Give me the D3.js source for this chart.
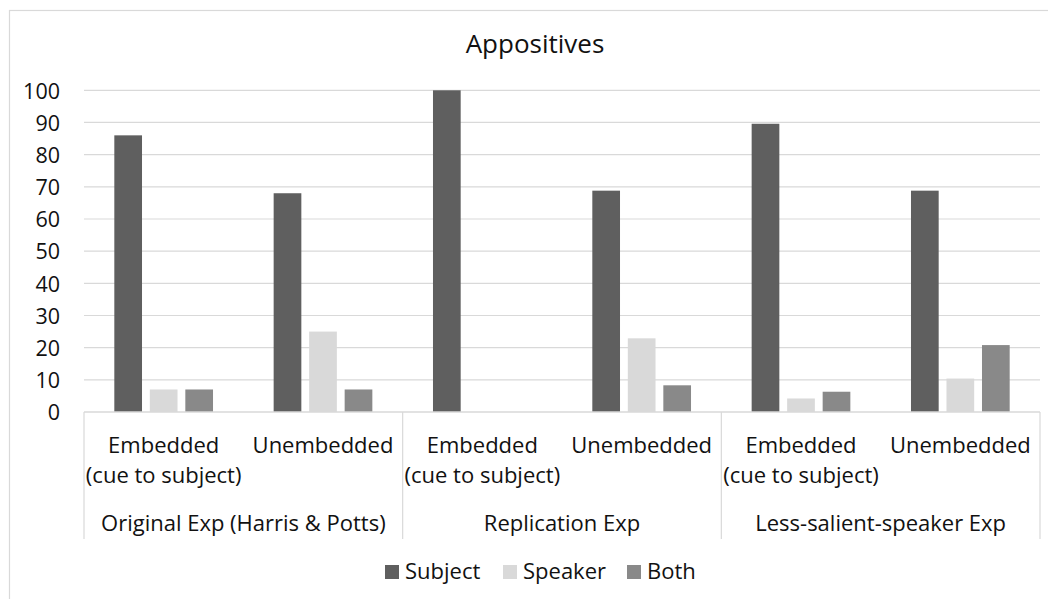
<!DOCTYPE html>
<html>
<head>
<meta charset="utf-8">
<script src="https://cdn.jsdelivr.net/npm/d3@7"></script>
<style>
  html, body { margin: 0; padding: 0; background: #fff; }
  svg { display: block; font-family: "Open Sans", sans-serif; }
</style>
</head>
<body>
<svg id="chart" width="1048" height="599"></svg>
<script>
// Appositives: share of interpretations (%) per condition and experiment
const title = "Appositives";
const experiments = ["Original Exp (Harris & Potts)", "Replication Exp", "Less-salient-speaker Exp"];
const conditions = ["Embedded\n(cue to subject)", "Unembedded"];
const seriesNames = ["Subject", "Speaker", "Both"];
const seriesColors = ["#5f5f5f", "#d9d9d9", "#898989"];
const subjectValues = [86, 68, 100, 68.8, 89.6, 68.8];
const speakerValues = [7, 25, 0, 22.9, 4.2, 10.4];
const bothValues = [7, 7, 0, 8.3, 6.3, 20.8];
const yTicks = [0, 10, 20, 30, 40, 50, 60, 70, 80, 90, 100];

const svg = d3.select("#chart");
const plot = { left: 84, right: 1040, top: 90.3, bottom: 412 };
const textColor = "#111";
const lineColor = "#d9d9d9";
const labelSize = 22;

// chart frame
svg.append("rect")
  .attr("x", 9.5).attr("y", 10.5)
  .attr("width", 1080).attr("height", 620)
  .attr("fill", "none").attr("stroke", lineColor).attr("stroke-width", 1.2);

// one entry per bottom-level category
const cats = [];
experiments.forEach((e, i) => conditions.forEach((c, j) => cats.push({ exp: e, cond: c, key: i + "-" + j })));
const valueRows = [subjectValues, speakerValues, bothValues];

const x0 = d3.scaleBand().domain(cats.map(d => d.key)).range([plot.left, plot.right]);
const x1 = d3.scaleBand().domain(seriesNames).range([0, x0.bandwidth()]).paddingInner(0.22).paddingOuter(0.854);
const y = d3.scaleLinear().domain([0, 100]).range([plot.bottom, plot.top]);

// gridlines
svg.append("g")
  .selectAll("line").data(yTicks.filter(t => t > 0)).join("line")
  .attr("x1", plot.left).attr("x2", plot.right)
  .attr("y1", d => y(d)).attr("y2", d => y(d))
  .attr("stroke", lineColor).attr("stroke-width", 1.2);

// y axis labels
const yAxis = d3.axisLeft(y).tickValues(yTicks).tickSize(0).tickPadding(0);
const gy = svg.append("g").attr("transform", `translate(${plot.left - 24},0)`).call(yAxis);
gy.select(".domain").remove();
gy.selectAll("text")
  .attr("font-family", "Open Sans, sans-serif")
  .attr("font-size", 21.5).attr("fill", textColor).attr("dy", "0.36em");

// bars
const barG = svg.append("g");
cats.forEach((c, ci) => {
  seriesNames.forEach((s, si) => {
    const v = valueRows[si][ci];
    if (v <= 0) return;
    barG.append("rect")
      .attr("x", x0(c.key) + x1(s))
      .attr("y", y(v))
      .attr("width", x1.bandwidth())
      .attr("height", y(0) - y(v))
      .attr("fill", seriesColors[si]);
  });
});

// category axis line
svg.append("line")
  .attr("x1", plot.left).attr("x2", plot.right)
  .attr("y1", plot.bottom).attr("y2", plot.bottom)
  .attr("stroke", lineColor).attr("stroke-width", 1.4);

// separators between experiments
const groupWidth = x0.bandwidth() * conditions.length;
const sepX = d3.range(experiments.length + 1).map(i => plot.left + i * groupWidth);
svg.append("g").selectAll("line").data(sepX).join("line")
  .attr("x1", d => d).attr("x2", d => d)
  .attr("y1", plot.bottom).attr("y2", 539)
  .attr("stroke", lineColor).attr("stroke-width", 1.2);

// condition labels (wrapped)
cats.forEach(c => {
  const cx = x0(c.key) + x0.bandwidth() / 2;
  c.cond.split("\n").forEach((line, li) => {
    svg.append("text")
      .attr("x", cx).attr("y", 453 + li * 30)
      .attr("text-anchor", "middle")
      .attr("font-size", labelSize).attr("fill", textColor)
      .text(line);
  });
});

// experiment labels
experiments.forEach((e, i) => {
  svg.append("text")
    .attr("x", plot.left + (i + 0.5) * groupWidth).attr("y", 531)
    .attr("text-anchor", "middle")
    .attr("font-size", labelSize).attr("fill", textColor)
    .text(e);
});

// title
svg.append("text")
  .attr("x", 535).attr("y", 53)
  .attr("text-anchor", "middle")
  .attr("font-size", 26).attr("fill", textColor)
  .text(title);

// legend
const legendX = [385, 503, 627];
const lg = svg.append("g");
seriesNames.forEach((s, i) => {
  lg.append("rect")
    .attr("x", legendX[i]).attr("y", 565)
    .attr("width", 14).attr("height", 14)
    .attr("fill", seriesColors[i]);
  lg.append("text")
    .attr("x", legendX[i] + 20).attr("y", 579)
    .attr("font-size", labelSize).attr("fill", textColor)
    .text(s);
});
</script>
</body>
</html>
